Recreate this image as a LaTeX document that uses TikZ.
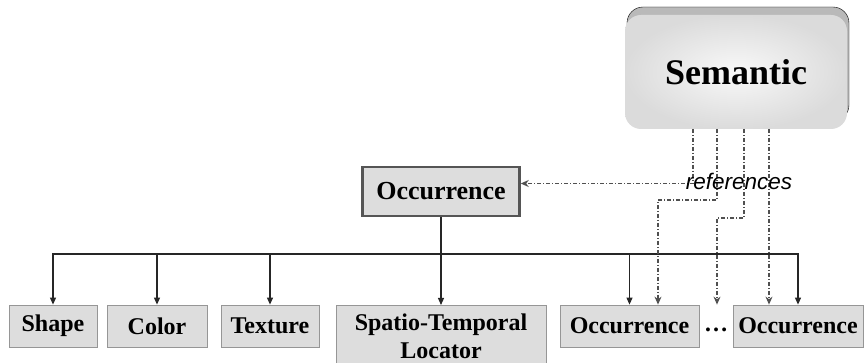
\documentclass[tikz,border=0pt]{standalone}
\usepackage{fontspec}
\setmainfont{Liberation Serif}
\setsansfont{Liberation Sans}
\usetikzlibrary{arrows.meta, positioning, shadows}
\definecolor{boxgray}{RGB}{221,221,221}
\definecolor{edgegray}{RGB}{150,150,150}
\definecolor{darkedge}{RGB}{85,85,85}
\definecolor{refgray}{RGB}{80,80,80}

\begin{document}
\begin{tikzpicture}[x=1pt, y=-1pt,
    leaf/.style={draw=edgegray, line width=0.8pt, fill=boxgray, minimum height=42pt, inner sep=0pt, font=\fontsize{24}{28}\selectfont\bfseries},
    tree/.style={-{Triangle[length=7pt,width=6pt]}, line width=1.1pt, black!85},
    refline/.style={-{Stealth[length=8pt,width=7pt]}, refgray, line width=1.1pt, dash pattern=on 4pt off 2pt on 1pt off 2pt}]
    \useasboundingbox (0,0) rectangle (865,363);
    % Semantic block
    \node[rounded corners=16pt, minimum width=222pt, minimum height=114pt, inner color=gray!5, outer color=gray!28,
          copy shadow={shadow xshift=2pt, shadow yshift=8pt, fill=gray!55},
          font=\fontsize{36}{40}\selectfont\bfseries] (sem) at (736,72) {Semantic};
    \node[draw=darkedge, line width=2.5pt, fill=boxgray, minimum width=157pt, minimum height=49pt,
          font=\fontsize{26}{30}\selectfont\bfseries] (occ) at (441,191.5) {Occurrence};

    % Leaves
    \node[leaf, minimum width=88pt] (shape) at (53,326) {Shape};
    \node[leaf, minimum width=100pt] (color) at (157,326) {Color};
    \node[leaf, minimum width=98pt] (texture) at (270,326) {Texture};
    \node[leaf, minimum width=210pt, minimum height=62pt, align=center, anchor=north] (locator) at (441,305) {Spatio-Temporal\\Locator};
    \node[leaf, minimum width=139pt] (occa) at (629.5,326) {Occurrence};
    \node[font=\fontsize{24}{28}\selectfont\bfseries] (dots) at (716,330) {\dots};
    \node[leaf, minimum width=130pt] (occb) at (798,326) {Occurrence};

    % Tree
    \coordinate (bus) at (441,254);
    \draw[line width=1.1pt, black!85] (occ.south) -- (bus);
    \foreach \n in {shape, color, texture, locator, occa, occb}
        \draw[tree] (bus) -| (\n.north);

    % References
    \coordinate (s1) at (693,129);
    \coordinate (s2) at (717,129);
    \coordinate (s3) at (744,129);
    \coordinate (s4) at (769,129);
    \coordinate (t2) at (658,200);
    \coordinate (t3) at (717,218);
    \draw[refline] (s1) |- ([yshift=8pt]occ.east);
    \draw[refline] (s2) |- (t2) -- (t2 |- occa.north);
    \draw[refline] (s3) |- (t3) -- (t3 |- occa.north);
    \draw[refline] (s4) -- (s4 |- occb.north);
    \node[font=\sffamily\itshape\fontsize{22.5}{26}\selectfont] (refs) at (739,181) {references};
\end{tikzpicture}
\end{document}
